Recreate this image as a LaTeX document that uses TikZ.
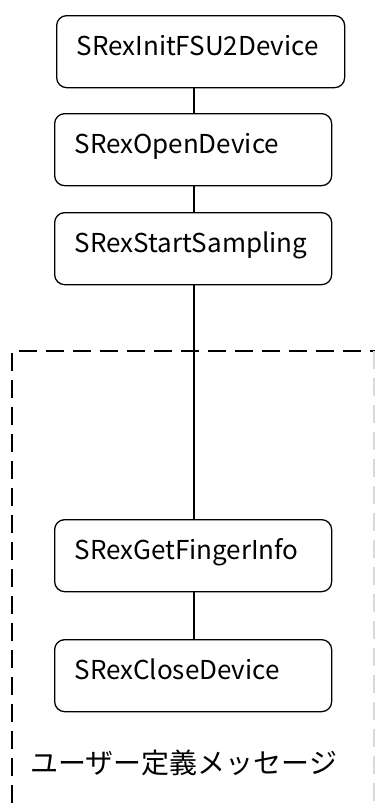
\documentclass[tikz,border=0pt]{standalone}
\usepackage{fontspec}
\setmainfont{Noto Sans CJK JP}
\begin{document}
\begin{tikzpicture}[x=1pt,y=-1pt,
  fn/.style={draw,line width=1.3pt,rounded corners=10pt,minimum height=72pt,
    text width=#1,inner xsep=20pt,align=left,text height=19pt,text depth=12pt,
    font=\fontsize{26}{28}\selectfont,anchor=north west},
  link/.style={line width=1.3pt},
  grp/.style={line width=2pt,dash pattern=on 18pt off 9pt}]
\useasboundingbox (0,0) rectangle (375,803);
\draw[grp] (12,803) -- (12,351) -- (375,351);
\draw[grp,gray!30] (374,351) -- (374,803);
\node[fn=248pt] (a) at (56,15) {SRexInitFSU2Device};
\node[fn=237pt] (b) at (54,113) {SRexOpenDevice};
\node[fn=237pt] (c) at (54,212) {SRexStartSampling};
\node[fn=237pt] (d) at (54,519) {SRexGetFingerInfo};
\node[fn=237pt] (e) at (54,639) {SRexCloseDevice};
\draw[link] (a.south -| 194,0) -- (b.north -| 194,0);
\draw[link] (b.south -| 194,0) -- (c.north -| 194,0);
\draw[link] (c.south -| 194,0) -- (d.north -| 194,0);
\draw[link] (d.south -| 194,0) -- (e.north -| 194,0);
\node[font=\fontsize{28}{30}\selectfont,anchor=west,inner sep=0pt] (lbl) at (30,763) {ユーザー定義メッセージ};
\end{tikzpicture}
\end{document}
